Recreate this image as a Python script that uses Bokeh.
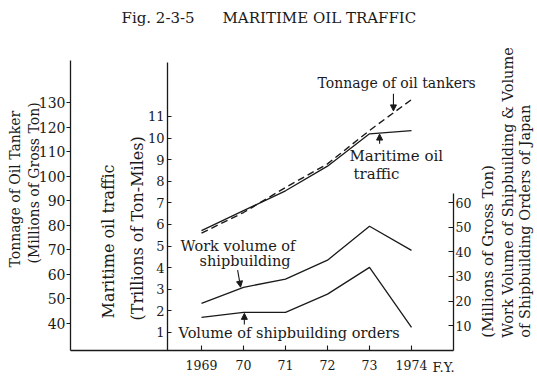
import numpy as np
from bokeh.plotting import figure
from bokeh.models import (Range1d, LinearAxis, FixedTicker, Label, Arrow, NormalHead)
from bokeh.embed import file_html
from bokeh.resources import INLINE

# ---------------- data ----------------
years = [1969, 1970, 1971, 1972, 1973, 1974]
year_labels = ["1969", "70", "71", "72", "73", "1974"]
tonnage = [76.8, 85.2, 95.4, 105.0, 118.6, 131.2]        # millions of gross ton (left axis)
traffic = [5.72, 6.64, 7.56, 8.70, 10.20, 10.35]         # trillions of ton-miles (middle axis)
work_volume = [19.1, 25.6, 28.9, 36.6, 50.4, 40.6]       # millions of gross ton (right axis)
orders = [13.4, 15.4, 15.4, 22.8, 33.7, 9.3]             # millions of gross ton (right axis)

tonnage_ticks = [40, 50, 60, 70, 80, 90, 100, 110, 120, 130]
traffic_ticks = [1, 2, 3, 4, 5, 6, 7, 8, 9, 10, 11]
work_ticks = [10, 20, 30, 40, 50, 60]

FONT = "DejaVu Serif"
INK = "#1a1a1a"

# the plotting frame covers the whole canvas; the axes sit at fixed data locations
p = figure(width=537, height=379,
           x_range=Range1d(1964.214, 1977.0),
           y_range=Range1d(17.195, 171.54),
           output_backend="svg", toolbar_location=None)
p.min_border = 0
p.min_border_left = 0
p.min_border_right = 0
p.min_border_top = 0
p.min_border_bottom = 0
p.extra_y_ranges = {"traffic": Range1d(-1.176, 16.37), "work": Range1d(-11.87, 142.11)}

p.outline_line_color = None
p.xgrid.visible = False
p.ygrid.visible = False
p.background_fill_color = "white"
p.border_fill_color = "white"

X_LEFT, X_MID, X_RIGHT = 1965.881, 1968.190, 1975.0
BASE_T = 29.005      # baseline on the tonnage scale


def style_axis(ax, size, standoff, tin, tout):
    ax.major_tick_in = tin
    ax.major_tick_out = tout
    ax.minor_tick_line_color = None
    ax.major_label_standoff = standoff
    ax.major_label_text_font = FONT
    ax.major_label_text_font_size = size
    ax.major_label_text_color = INK
    ax.axis_line_width = 1.3
    ax.axis_line_color = INK
    ax.major_tick_line_color = INK
    ax.major_tick_line_width = 1.1


# x axis (baseline)
xa = p.xaxis[0]
xa.ticker = FixedTicker(ticks=years)
xa.major_label_overrides = {y: l for y, l in zip(years, year_labels)}
xa.fixed_location = BASE_T
xa.bounds = (X_LEFT, X_RIGHT)
style_axis(xa, "12.5px", 9, 5, 0)

# left axis (tonnage)
ya = p.yaxis[0]
ya.ticker = FixedTicker(ticks=tonnage_ticks)
ya.fixed_location = X_LEFT
ya.bounds = (BASE_T, 147.1)
style_axis(ya, "14px", 1, 0, 4)

# middle axis (maritime oil traffic)
ma = LinearAxis(y_range_name="traffic", ticker=FixedTicker(ticks=traffic_ticks))
ma.fixed_location = X_MID
ma.bounds = (0.167, 13.5)
style_axis(ma, "13px", 3, 4, 0)
p.add_layout(ma, "left")

# right axis (work volume / orders)
ra = LinearAxis(y_range_name="work", ticker=FixedTicker(ticks=work_ticks))
ra.fixed_location = X_RIGHT
ra.bounds = (-0.16, 63.8)
style_axis(ra, "12.5px", 2, 5, 0)
p.add_layout(ra, "right")

# series
p.line(years, tonnage, line_color=INK, line_width=1.4, line_dash="7 4")
p.line(years, traffic, y_range_name="traffic", line_color=INK, line_width=1.3)
p.line(years, work_volume, y_range_name="work", line_color=INK, line_width=1.3)
p.line(years, orders, y_range_name="work", line_color=INK, line_width=1.3)


def lab(text, x, y, rng=None, size="14px", angle=0.0, align="left", baseline="middle"):
    kw = dict(x=x, y=y, text=text, text_font=FONT, text_font_size=size, text_color=INK,
              text_align=align, text_baseline=baseline, angle=angle)
    if rng:
        kw["y_range_name"] = rng
    p.add_layout(Label(**kw))


# title
lab("Fig. 2-3-5", 1967.095, 164.6, size="15px")
lab("MARITIME OIL TRAFFIC", 1969.5, 164.6, size="15px")

# series annotations
lab("Tonnage of oil tankers", 1971.762, 138.14, size="14px")
lab("Maritime oil", 1972.524, 9.148, "traffic", size="15px")
lab("traffic", 1972.619, 8.315, "traffic", size="15px")
lab("Work volume of", 1968.50, 42.52, "work", size="14.5px")
lab("shipbuilding", 1968.952, 36.42, "work", size="14.5px")
lab("Volume of shipbuilding orders", 1968.452, 7.16, "work", size="14.5px")
lab("F.Y.", 1974.50, -7.07, "work", size="13px")

# rotated axis titles
H = np.pi / 2
lab("Tonnage of Oil Tanker", 1964.548, 62.80, angle=H, size="14px")
lab("(Millions of Gross Ton)", 1965.0, 64.43, angle=H, size="14px")
lab("Maritime oil traffic", 1966.786, 1.648, "traffic", angle=H, size="16px")
lab("(Trillions of Ton-Miles)", 1967.476, 1.556, "traffic", angle=H, size="16px")
lab("(Millions of Gross Ton)", 1975.833, 5.12, "work", angle=H, size="15px")
lab("Work Volume of Shipbuilding & Volume", 1976.286, 5.12, "work", angle=H, size="14.5px")
lab("of Shipbuilding Orders of Japan", 1976.714, 5.12, "work", angle=H, size="14.5px")

# arrows, anchored on the series
head = dict(size=6, fill_color=INK, line_color=INK, line_width=1)
ax1 = 1973.57
t1 = float(np.interp(ax1, years, tonnage)) + 0.8
p.add_layout(Arrow(end=NormalHead(**head), x_start=ax1, y_start=t1 + 7, x_end=ax1, y_end=t1,
                   line_color=INK, line_width=1.1))
ax2 = 1973.24
t2 = float(np.interp(ax2, years, traffic)) - 0.05
p.add_layout(Arrow(end=NormalHead(**head), x_start=ax2, y_start=t2 - 0.45, x_end=ax2, y_end=t2,
                   y_range_name="traffic", line_color=INK, line_width=1.1))
ax3 = 1969.93
t3 = float(np.interp(ax3, years, work_volume)) + 0.5
p.add_layout(Arrow(end=NormalHead(**head), x_start=ax3 - 0.07, y_start=t3 + 6.9, x_end=ax3, y_end=t3,
                   y_range_name="work", line_color=INK, line_width=1.1))
ax4 = 1970.02
t4 = float(np.interp(ax4, years, orders)) - 0.4
p.add_layout(Arrow(end=NormalHead(**head), x_start=ax4, y_start=t4 - 4.5, x_end=ax4, y_end=t4,
                   y_range_name="work", line_color=INK, line_width=1.1))

open("out.html", "w").write(file_html(p, INLINE))
